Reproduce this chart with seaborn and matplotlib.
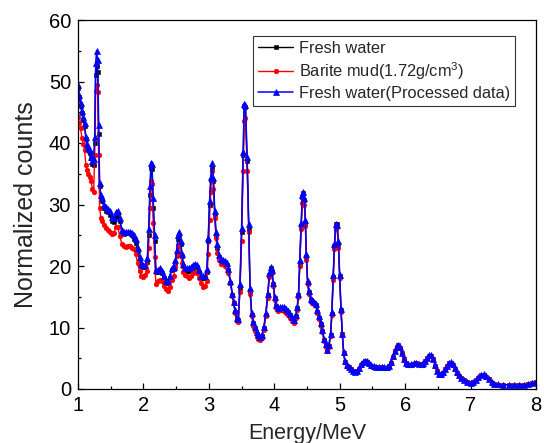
import matplotlib
matplotlib.use("Agg")
import matplotlib.pyplot as plt
import seaborn as sns
from matplotlib.ticker import MultipleLocator

energy = [1.00, 1.02, 1.04, 1.06, 1.08, 1.10, 1.12, 1.14, 1.16, 1.18, 1.20, 1.22, 1.24, 1.255, 1.27, 1.285, 1.30, 1.315, 1.33, 1.35,
          1.37, 1.40, 1.43, 1.46, 1.49, 1.52, 1.55, 1.58, 1.61, 1.64, 1.67, 1.70, 1.73, 1.76, 1.79, 1.82, 1.85, 1.88, 1.91, 1.94,
          1.97, 2.00, 2.03, 2.06, 2.08, 2.10, 2.115, 2.13, 2.15, 2.17, 2.19, 2.22, 2.25, 2.28, 2.31, 2.34, 2.37, 2.40, 2.43, 2.46,
          2.49, 2.51, 2.53, 2.55, 2.57, 2.59, 2.61, 2.64, 2.67, 2.70, 2.73, 2.76, 2.79, 2.82, 2.85, 2.88, 2.91, 2.94, 2.97, 2.99,
          3.01, 3.03, 3.05, 3.07, 3.09, 3.11, 3.13, 3.15, 3.18, 3.21, 3.24, 3.27, 3.30, 3.33, 3.36, 3.38, 3.40, 3.425, 3.45, 3.475,
          3.50, 3.525, 3.54, 3.56, 3.585, 3.61, 3.63, 3.655, 3.68, 3.705, 3.73, 3.755, 3.78, 3.81, 3.84, 3.87, 3.90, 3.925, 3.945, 3.965,
          3.985, 4.005, 4.025, 4.06, 4.09, 4.12, 4.15, 4.18, 4.21, 4.24, 4.27, 4.30, 4.33, 4.35, 4.37, 4.39, 4.41, 4.43, 4.445, 4.46,
          4.475, 4.49, 4.51, 4.53, 4.555, 4.58, 4.61, 4.635, 4.66, 4.685, 4.71, 4.735, 4.76, 4.785, 4.81, 4.835, 4.86, 4.88, 4.90, 4.92,
          4.94, 4.96, 4.98, 5.00, 5.02, 5.04, 5.06, 5.08, 5.11, 5.14, 5.17, 5.20, 5.23, 5.26, 5.29, 5.32, 5.35, 5.38, 5.41, 5.44,
          5.48, 5.52, 5.56, 5.60, 5.64, 5.68, 5.72, 5.75, 5.78, 5.81, 5.84, 5.87, 5.895, 5.92, 5.95, 5.98, 6.01, 6.05, 6.09, 6.13,
          6.17, 6.21, 6.25, 6.28, 6.31, 6.34, 6.37, 6.40, 6.43, 6.46, 6.49, 6.52, 6.55, 6.58, 6.61, 6.64, 6.67, 6.70, 6.73, 6.76,
          6.79, 6.82, 6.86, 6.90, 6.95, 7.00, 7.04, 7.08, 7.12, 7.16, 7.20, 7.24, 7.28, 7.32, 7.36, 7.42, 7.50, 7.58, 7.66, 7.74,
          7.82, 7.88, 7.94, 8.00]

processed = [49.5, 47.8, 46.5, 45.2, 44.3, 43.3, 41.0, 39.8, 39.2, 38.8, 37.8, 37.0, 37.4, 41.0, 53.0, 55.0, 53.5, 43.0, 33.5, 31.5,
             31.0, 30.0, 29.6, 29.3, 28.9, 28.0, 27.8, 28.7, 29.0, 27.8, 25.8, 25.6, 25.6, 25.6, 25.6, 25.4, 25.0, 24.4, 23.0, 21.5,
             20.4, 20.2, 20.2, 21.3, 26.0, 33.0, 36.8, 36.6, 31.0, 25.0, 19.3, 19.4, 19.6, 19.2, 18.3, 17.6, 17.5, 18.3, 19.6, 19.9,
             21.0, 22.6, 25.0, 25.5, 24.0, 22.0, 20.4, 19.7, 19.6, 19.6, 19.9, 20.2, 20.4, 20.2, 19.4, 18.4, 18.3, 18.4, 19.5, 24.5,
             30.5, 34.5, 36.7, 34.3, 29.0, 25.5, 23.5, 21.8, 21.2, 21.0, 20.8, 20.5, 19.5, 17.5, 15.5, 14.2, 12.8, 11.5, 11.4, 17.0,
             26.1, 38.6, 46.4, 46.2, 37.8, 26.9, 16.5, 12.3, 10.9, 10.1, 9.2, 8.8, 8.4, 8.8, 10.1, 12.3, 15.5, 18.8, 19.8, 19.3,
             17.2, 15.0, 13.7, 13.2, 13.3, 13.4, 13.3, 13.0, 12.7, 12.2, 11.7, 11.3, 12.0, 13.3, 15.5, 21.0, 27.0, 31.5, 32.1, 31.0,
             27.5, 22.0, 17.5, 16.0, 14.7, 14.4, 14.2, 13.9, 12.8, 11.8, 10.7, 9.6, 8.2, 7.3, 6.4, 7.2, 9.0, 12.5, 18.5, 23.5,
             26.9, 26.7, 24.0, 18.5, 13.0, 9.0, 6.0, 4.5, 3.9, 3.6, 3.3, 3.0, 2.8, 3.0, 3.4, 4.0, 4.4, 4.6, 4.5, 4.2,
             3.9, 3.7, 3.65, 3.6, 3.55, 3.5, 3.5, 3.8, 4.4, 5.3, 6.2, 7.0, 7.2, 6.8, 5.9, 4.9, 4.3, 4.0, 4.0, 4.2,
             4.3, 4.1, 4.0, 4.2, 4.6, 5.1, 5.5, 5.5, 4.9, 3.9, 3.0, 2.5, 2.4, 2.7, 3.3, 3.8, 4.3, 4.4, 4.0, 3.4,
             2.7, 2.2, 1.8, 1.5, 1.2, 1.05, 1.2, 1.5, 1.9, 2.3, 2.4, 2.1, 1.6, 1.1, 0.85, 0.75, 0.7, 0.68, 0.65, 0.65,
             0.7, 0.8, 1.0, 1.15]

fresh_water = [49.0, 47.5, 46.0, 44.8, 43.8, 42.8, 40.6, 39.4, 38.8, 38.4, 37.5, 36.6, 36.5, 40.0, 51.0, 52.5, 51.5, 41.5, 33.0, 31.0,
               30.5, 29.5, 29.0, 28.7, 28.3, 27.3, 27.2, 28.0, 28.5, 27.3, 25.4, 25.2, 25.3, 25.4, 25.3, 25.0, 24.4, 23.7, 22.5, 21.0,
               20.0, 19.8, 19.9, 20.6, 25.0, 31.5, 36.0, 35.8, 29.5, 24.0, 19.0, 19.0, 19.2, 18.9, 18.0, 17.3, 17.2, 18.0, 19.3, 19.5,
               20.5, 22.0, 24.4, 25.0, 23.5, 21.6, 20.0, 19.3, 19.2, 19.2, 19.5, 19.8, 20.0, 19.8, 19.0, 18.0, 18.0, 18.0, 19.0, 24.0,
               30.0, 34.0, 36.0, 33.8, 28.5, 25.0, 23.0, 21.5, 21.0, 20.8, 20.6, 20.2, 19.3, 17.3, 15.3, 14.0, 12.6, 11.4, 11.2, 16.5,
               25.5, 38.0, 46.0, 45.8, 37.0, 26.0, 16.0, 12.0, 10.7, 9.9, 9.0, 8.6, 8.3, 8.6, 10.0, 12.1, 15.3, 18.6, 19.6, 19.1,
               17.0, 14.8, 13.5, 13.0, 13.2, 13.2, 13.1, 12.8, 12.5, 12.0, 11.5, 11.2, 11.9, 13.1, 15.3, 20.5, 26.5, 31.3, 31.8, 30.7,
               27.0, 21.5, 17.2, 15.8, 14.5, 14.2, 14.0, 13.7, 12.6, 11.6, 10.5, 9.4, 8.0, 7.1, 6.3, 7.0, 8.8, 12.2, 18.2, 23.2,
               26.8, 26.8, 23.5, 18.3, 12.8, 8.9, 5.9, 4.4, 3.8, 3.5, 3.2, 2.9, 2.7, 2.9, 3.3, 3.9, 4.3, 4.5, 4.4, 4.1,
               3.8, 3.6, 3.6, 3.55, 3.5, 3.45, 3.45, 3.7, 4.3, 5.2, 6.1, 6.9, 7.1, 6.7, 5.8, 4.8, 4.2, 3.95, 3.95, 4.1,
               4.2, 4.0, 3.95, 4.1, 4.5, 5.0, 5.4, 5.4, 4.8, 3.8, 2.9, 2.45, 2.35, 2.6, 3.2, 3.7, 4.2, 4.3, 3.9, 3.3,
               2.6, 2.1, 1.75, 1.45, 1.15, 1.0, 1.15, 1.45, 1.85, 2.2, 2.35, 2.0, 1.55, 1.05, 0.8, 0.72, 0.68, 0.65, 0.62, 0.62,
               0.68, 0.78, 0.95, 1.1]

barite_mud = [44.3, 43.2, 42.4, 40.8, 39.8, 38.9, 36.4, 35.6, 35.0, 34.4, 33.8, 32.6, 32.0, 38.0, 48.5, 49.5, 48.3, 38.0, 29.5, 27.8,
              27.3, 26.7, 26.1, 25.8, 25.6, 25.2, 25.4, 26.4, 26.3, 24.8, 23.6, 23.2, 23.1, 23.2, 23.2, 23.0, 22.8, 22.0, 20.5, 19.2,
              18.4, 18.2, 18.5, 19.2, 23.0, 29.5, 33.8, 33.3, 27.0, 21.5, 17.0, 17.5, 17.7, 17.5, 16.8, 16.3, 16.0, 16.6, 17.7, 18.3,
              19.8, 21.6, 23.4, 23.3, 22.0, 20.5, 19.1, 18.5, 18.3, 18.1, 18.4, 18.8, 19.1, 18.9, 18.0, 17.2, 16.6, 16.8, 17.6, 22.0,
              27.5, 32.1, 35.4, 32.5, 27.8, 24.5, 22.1, 21.0, 20.4, 20.3, 20.0, 19.6, 18.9, 17.2, 15.2, 14.0, 12.4, 11.0, 10.9, 15.8,
              24.0, 35.5, 43.5, 44.0, 35.5, 25.5, 15.5, 11.8, 10.2, 9.4, 8.6, 8.1, 7.9, 8.3, 9.6, 11.8, 14.8, 18.2, 19.3, 18.8,
              16.7, 14.4, 13.2, 12.7, 12.9, 12.9, 12.7, 12.4, 12.0, 11.5, 11.1, 10.8, 11.5, 12.8, 15.0, 20.0, 26.0, 30.3, 31.0, 30.0,
              26.5, 21.0, 17.0, 15.5, 14.3, 14.0, 13.8, 13.5, 12.4, 11.4, 10.3, 9.2, 7.8, 6.9, 6.1, 6.9, 8.6, 12.0, 17.8, 22.8,
              26.0, 26.3, 23.0, 18.0, 12.6, 8.7, 5.8, 4.4, 3.8, 3.5, 3.2, 2.9, 2.7, 2.9, 3.3, 3.9, 4.3, 4.5, 4.4, 4.1,
              3.8, 3.6, 3.55, 3.5, 3.5, 3.45, 3.45, 3.7, 4.3, 5.2, 6.1, 6.9, 7.1, 6.7, 5.8, 4.8, 4.2, 3.95, 3.95, 4.1,
              4.2, 4.0, 3.95, 4.1, 4.5, 5.0, 5.4, 5.4, 4.8, 3.8, 2.9, 2.45, 2.35, 2.6, 3.2, 3.7, 4.2, 4.3, 3.9, 3.3,
              2.6, 2.1, 1.75, 1.45, 1.15, 1.0, 1.15, 1.45, 1.85, 2.2, 2.35, 2.0, 1.55, 1.05, 0.8, 0.72, 0.68, 0.65, 0.62, 0.62,
              0.68, 0.78, 0.95, 1.1]

labels = ["Fresh water", "Barite mud(1.72g/cm$^3$)", "Fresh water(Processed data)"]

sns.set_style("ticks")
plt.rcParams["font.family"] = ["Liberation Sans", "DejaVu Sans"]
plt.rcParams["mathtext.fontset"] = "custom"
plt.rcParams["mathtext.rm"] = "Liberation Sans"

fig = plt.figure(figsize=(5.44, 4.43), dpi=100)
ax = fig.add_axes([78 / 544, 54 / 443, 458 / 544, 369 / 443])

common = dict(ax=ax, errorbar=None, estimator=None)
sns.lineplot(x=energy, y=fresh_water, color="black", marker="s", markersize=3.0, linewidth=1.0,
             markeredgecolor="black", markeredgewidth=0.4, label=labels[0], **common)
sns.lineplot(x=energy, y=barite_mud, color="#ff0000", marker="o", markersize=3.4, linewidth=1.0,
             markeredgecolor="#ff0000", markeredgewidth=0.4, label=labels[1], **common)
sns.lineplot(x=energy, y=processed, color="#0000ff", marker="^", markersize=4.2, linewidth=1.1,
             markeredgecolor="#0000ff", markeredgewidth=0.5, label=labels[2], **common)

ax.set_xlim(1, 8)
ax.set_ylim(0, 60)
ax.xaxis.set_major_locator(MultipleLocator(1))
ax.xaxis.set_minor_locator(MultipleLocator(0.5))
ax.yaxis.set_major_locator(MultipleLocator(10))
ax.yaxis.set_minor_locator(MultipleLocator(5))
ax.tick_params(which="both", direction="in", top=False, right=False, colors="black", width=0.9)
ax.tick_params(which="major", length=4.5, labelsize=14.5, pad=5)
ax.tick_params(which="minor", length=2.5)
for sp in ax.spines.values():
    sp.set_visible(True)
    sp.set_linewidth(0.9)
    sp.set_color("black")

ax.set_xlabel("Energy/MeV", fontsize=15.5, labelpad=6)
ax.set_ylabel("Normalized counts", fontsize=18, labelpad=8)

leg = ax.legend(loc="upper right", bbox_to_anchor=(0.955, 0.957), frameon=True, fancybox=False,
                edgecolor="black", fontsize=11.8, handlelength=2.1, borderpad=0.3,
                labelspacing=0.25, handletextpad=0.4, borderaxespad=0.0)
leg.get_frame().set_linewidth(0.8)

fig.savefig("out.png", dpi=100)
